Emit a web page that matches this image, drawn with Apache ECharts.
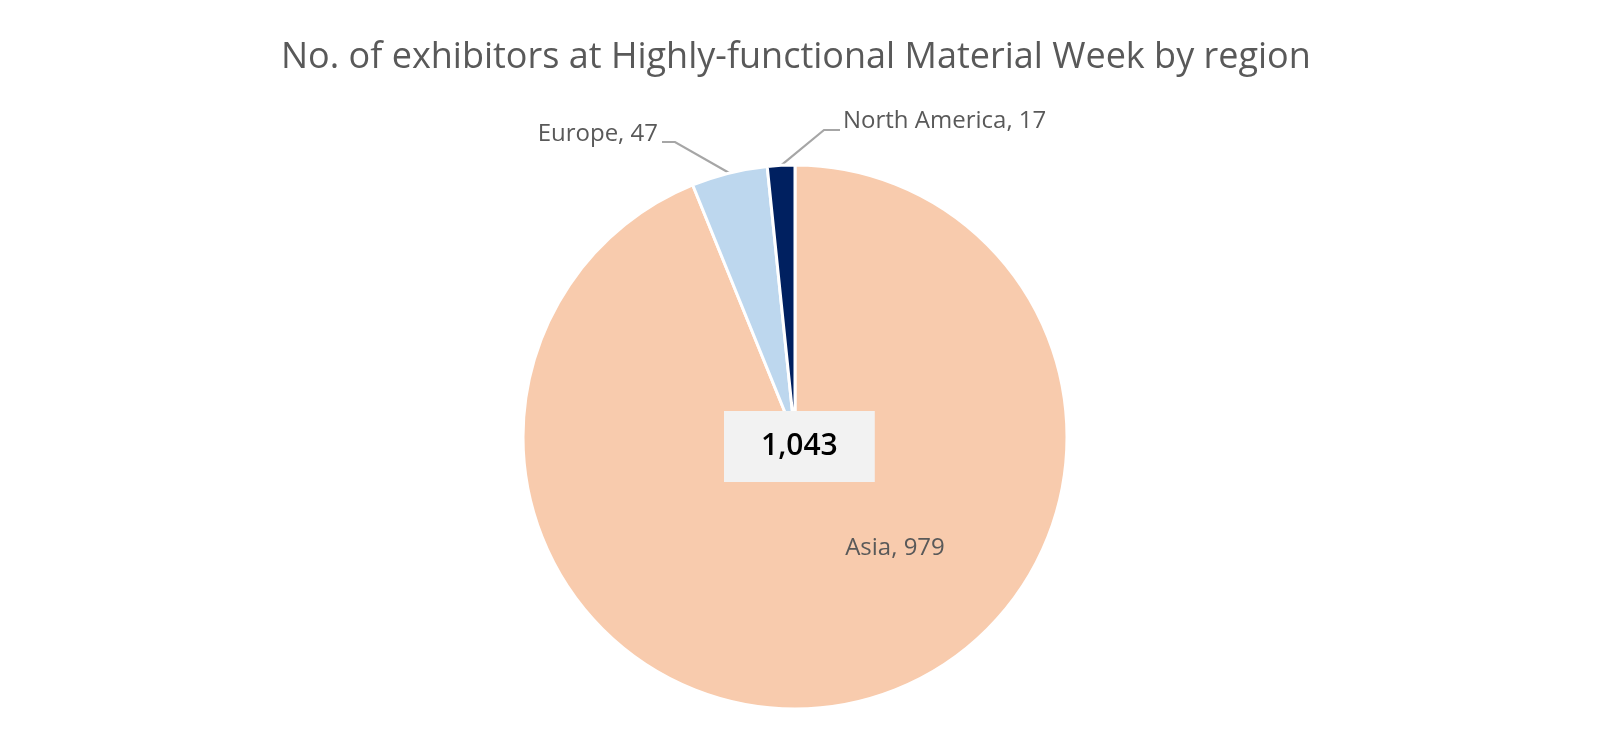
<!DOCTYPE html>
<html>
<head>
<meta charset="utf-8">
<script src="https://cdn.jsdelivr.net/npm/echarts@6/dist/echarts.min.js"></script>
<style>
html,body{margin:0;padding:0;background:#fff;}
#chart{width:1600px;height:747px;}
</style>
</head>
<body>
<div id="chart"></div>
<script>
const titleText = 'No. of exhibitors at Highly-functional Material Week by region';
const categories = ['Asia', 'Europe', 'North America'];
const values = [979, 47, 17];
const colors = ['#F8CBAD', '#BDD7EE', '#002060'];

const total = values.reduce((a, b) => a + b, 0);
const FONT = '"Open Sans", "Noto Sans", sans-serif';

// label anchor positions (layout only)
const labelPos = [
  { x: 895, y: 548, align: 'center' },
  { x: 658, y: 134, align: 'right', line: [[675, 142], [662, 142]] },
  { x: 843, y: 121, align: 'left', line: [[824, 130], [840, 130]] }
];

const chart = echarts.init(document.getElementById('chart'));
chart.setOption({
  backgroundColor: '#ffffff',
  animation: false,
  title: [
    {
      text: titleText,
      left: 276,
      top: 35,
      textStyle: { fontFamily: FONT, fontSize: 36, fontWeight: 'normal', color: '#595959' }
    },
    {
      text: total.toLocaleString('en-US'),
      left: 724,
      top: 411,
      backgroundColor: '#F2F2F2',
      padding: [18, 37, 18, 37],
      textStyle: { fontFamily: FONT, fontSize: 30, fontWeight: 600, color: '#000000', lineHeight: 35 }
    }
  ],
  series: [{
    type: 'pie',
    center: [795, 437],
    radius: 272,
    startAngle: 90,
    clockwise: true,
    data: categories.map((c, i) => ({
      name: c, value: values[i], itemStyle: { color: colors[i] },
      labelLine: { show: i !== 0 }
    })),
    itemStyle: { borderColor: '#ffffff', borderWidth: 3 },
    label: {
      show: true,
      formatter: '{b}, {c}',
      fontFamily: FONT,
      fontSize: 24,
      color: '#595959'
    },
    labelLine: {
      show: true,
      lineStyle: { color: '#A6A6A6', width: 2.2 }
    },
    labelLayout: function (params) {
      const p = labelPos[params.dataIndex];
      const out = { x: p.x, y: p.y, align: p.align, verticalAlign: 'middle' };
      const pts = params.labelLinePoints;
      if (p.line && pts && pts.length) {
        out.labelLinePoints = [pts[0], p.line[0], p.line[1]];
      }
      return out;
    },
    emphasis: { disabled: true }
  }]
});
</script>
</body>
</html>
